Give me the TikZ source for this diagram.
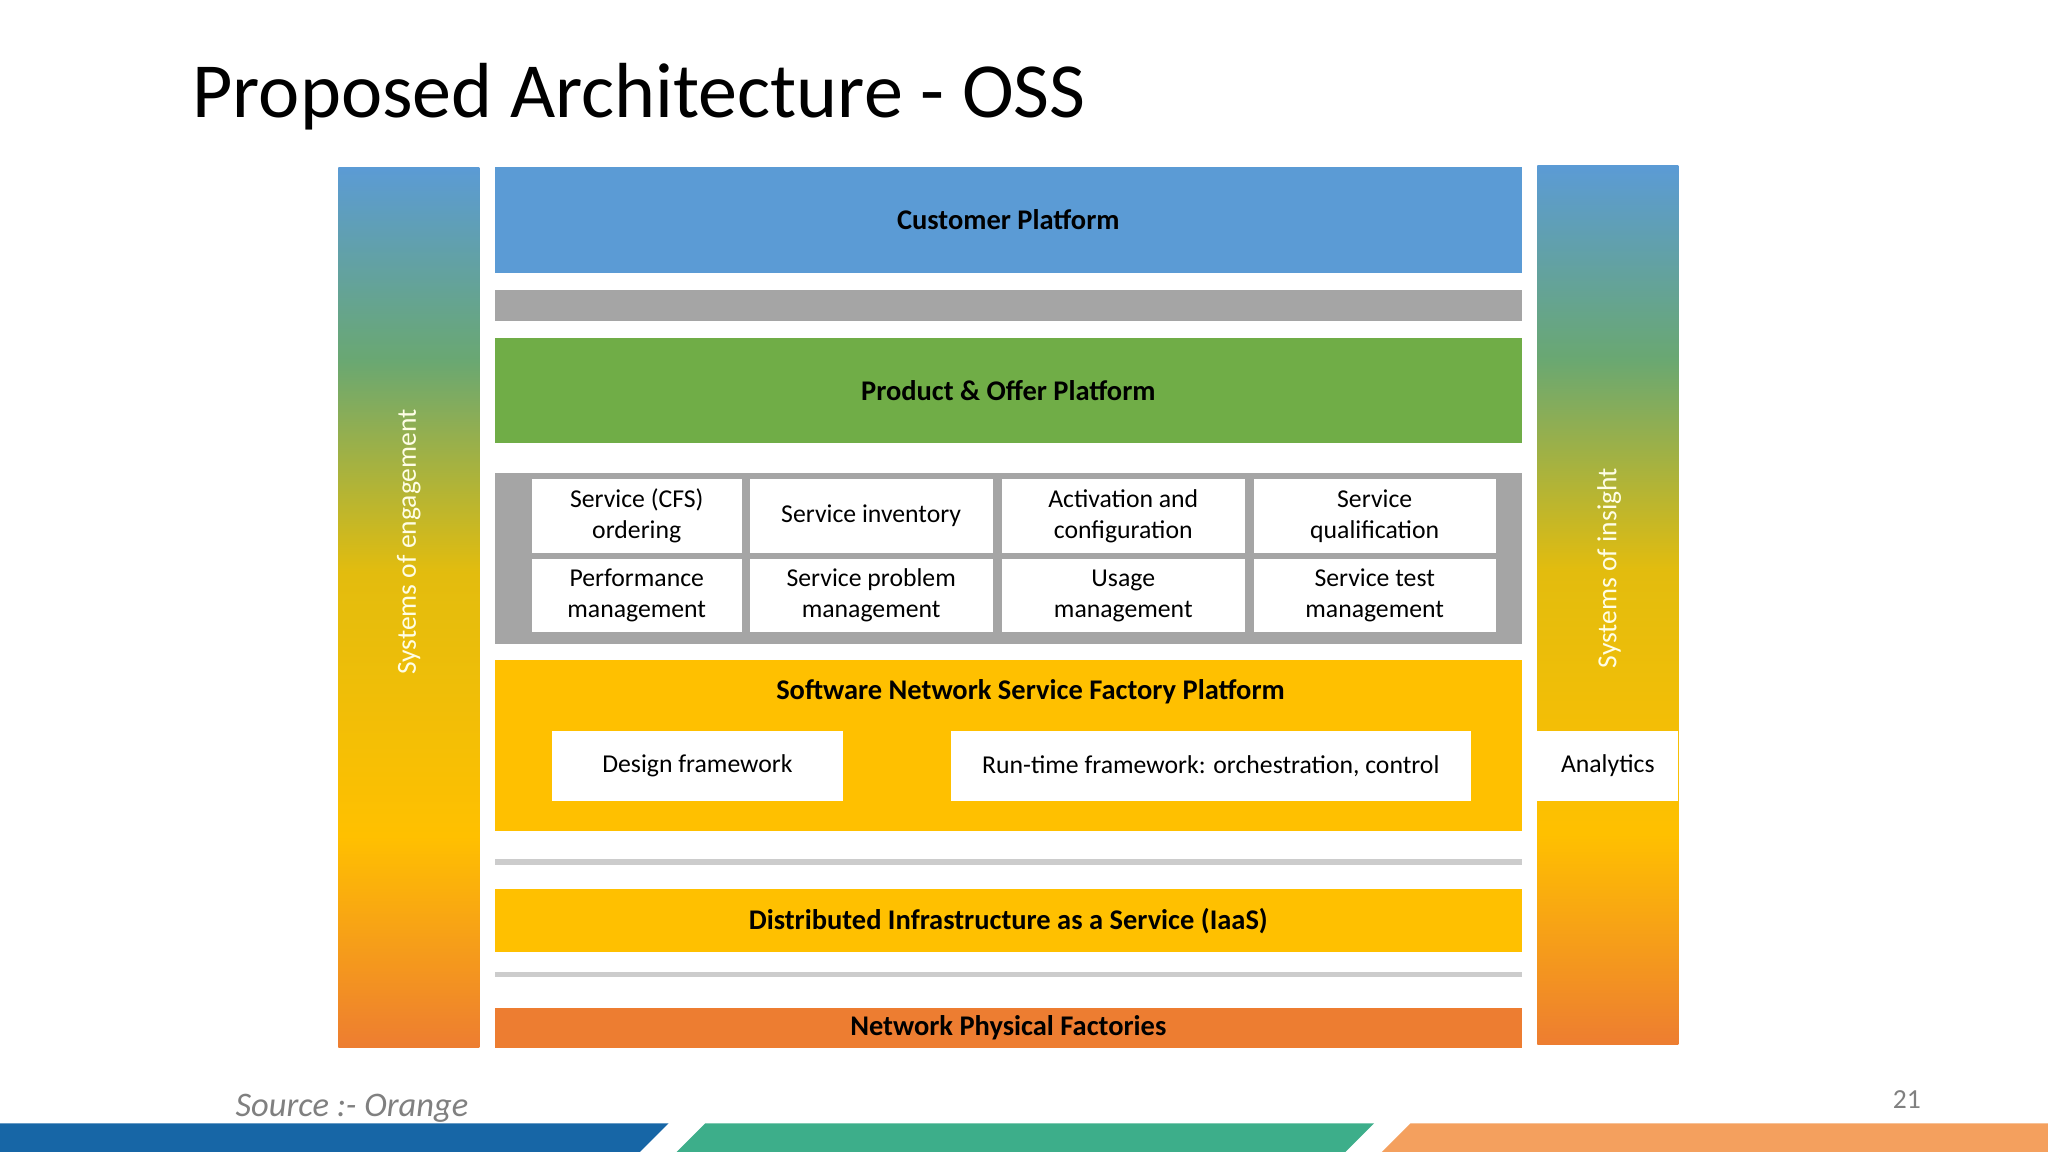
\documentclass[tikz,border=0pt]{standalone}
\usepackage{fontspec}
\setmainfont{Carlito}
\usetikzlibrary{positioning}
\definecolor{cpblue}{HTML}{5B9BD5}
\definecolor{pogreen}{HTML}{70AD47}
\definecolor{sfyellow}{HTML}{FFC000}
\definecolor{nporange}{HTML}{ED7D31}
\definecolor{midgray}{HTML}{A5A5A5}
\definecolor{bandblue}{HTML}{1766A6}
\definecolor{bandgreen}{HTML}{3DAE8A}
\definecolor{bandorange}{HTML}{F4A05E}
\pgfdeclareverticalshading{sysbar}{100bp}{color(0bp)=(nporange); color(25bp)=(nporange); color(37bp)=(sfyellow); color(52bp)=(sfyellow!80!pogreen); color(64bp)=(pogreen!70!cpblue); color(75bp)=(cpblue); color(100bp)=(cpblue)}
\begin{document}
\begin{tikzpicture}[x=0.01cm,y=-0.01cm,
  layer/.style={draw=none,inner sep=0pt,font=\fontsize{6.2}{7}\selectfont\bfseries},
  cell/.style={fill=white,inner sep=0pt,align=center,font=\fontsize{5.6}{6.8}\selectfont},
  sidetext/.style={rotate=90,text=white!90!yellow,font=\fontsize{6}{7}\selectfont}]
  \useasboundingbox (0,0) rectangle (1568,882);
  \fill[white] (0,0) rectangle (1568,882);
  % title
  \node (title)[anchor=base west,font=\fontsize{17}{20}\selectfont] at (135,90) {Proposed Architecture - OSS};
  % side bars
  \shade[shading=sysbar] (259,128) rectangle (367,802);
  \shade[shading=sysbar] (1177,127) rectangle (1285,800);
  \node (engage)[sidetext] at (313,415) {Systems of engagement};
  \node (insight)[sidetext] at (1232,435) {Systems of insight};
  \node (analytics)[cell,minimum width=1.08cm,minimum height=0.53cm] at (1231,586.5) {Analytics};
  % layers
  \node (customer)[layer,fill=cpblue,minimum width=7.86cm,minimum height=0.81cm] at (772,168.5) {Customer Platform};
  \node (sep1)[fill=midgray,minimum width=7.86cm,minimum height=0.24cm,inner sep=0pt] at (772,234) {};
  \node (product)[layer,fill=pogreen,minimum width=7.86cm,minimum height=0.8cm] at (772,299) {Product \& Offer Platform};
  \node (services)[fill=midgray,minimum width=7.86cm,minimum height=1.31cm,inner sep=0pt] at (772,427.5) {};
  \foreach \cx/\cw/\ta/\tb in {487.5/1.61cm/Service (CFS)\\ordering/Performance\\management,
      667/1.86cm/Service inventory/Service problem\\management,
      860/1.86cm/Activation and\\configuration/Usage\\management,
      1052.5/1.85cm/Service\\qualification/Service test\\management}{
    \node[cell,minimum width=\cw,minimum height=0.56cm] at (\cx,395) {\ta};
    \node[cell,minimum width=\cw,minimum height=0.56cm] at (\cx,456) {\tb};
  }
  \node (factory)[fill=sfyellow,minimum width=7.86cm,minimum height=1.31cm,inner sep=0pt] at (772,570.5) {};
  \node (factorytitle)[layer] at (789,530) {Software Network Service Factory Platform};
  \node (design)[cell,minimum width=2.22cm,minimum height=0.53cm] at (534,586.5) {Design framework};
  \node (runtime)[cell,minimum width=3.98cm,minimum height=0.53cm] at (927,586.5) {Run-time framework: orchestration, control};
  \draw[gray!40,line width=1.2pt] (379,660) -- (1165,660);
  \node (iaas)[layer,fill=sfyellow,minimum width=7.86cm,minimum height=0.48cm] at (772,705) {Distributed Infrastructure as a Service (IaaS)};
  \draw[gray!40,line width=1.2pt] (379,746) -- (1165,746);
  \node (physical)[layer,fill=nporange,minimum width=7.86cm,minimum height=0.3cm] at (772,787) {Network Physical Factories};
  % footer
  \node (source)[anchor=base west,text=gray,font=\fontsize{7.5}{9}\selectfont\itshape] at (168,855) {Source :- Orange};
  \node (page)[anchor=base,text=gray,font=\fontsize{6}{7}\selectfont] at (1460,849) {21};
  \fill[bandblue] (0,860) -- (512,860) -- (490,882) -- (0,882) -- cycle;
  \fill[bandgreen] (540,860) -- (1052,860) -- (1030,882) -- (518,882) -- cycle;
  \fill[bandorange] (1080,860) -- (1568,860) -- (1568,882) -- (1058,882) -- cycle;
\end{tikzpicture}
\end{document}
